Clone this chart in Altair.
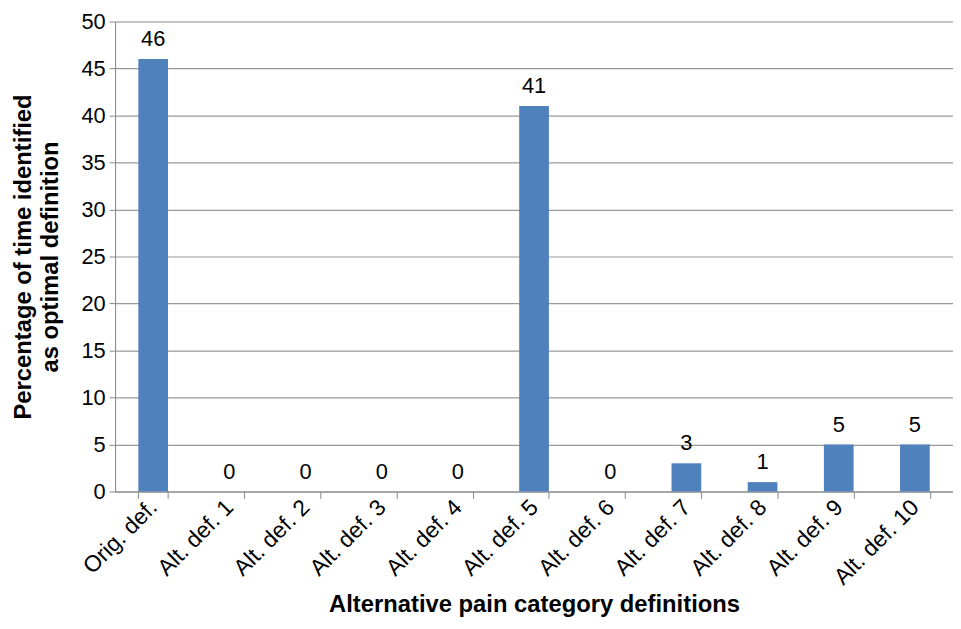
import altair as alt
import pandas as pd

categories = ["Orig. def.", "Alt. def. 1", "Alt. def. 2", "Alt. def. 3", "Alt. def. 4",
              "Alt. def. 5", "Alt. def. 6", "Alt. def. 7", "Alt. def. 8", "Alt. def. 9",
              "Alt. def. 10"]
values = [46, 0, 0, 0, 0, 41, 0, 3, 1, 5, 5]

df = pd.DataFrame({"cat": categories, "val": values})

FONT = "Liberation Sans"

x = alt.X("cat:N", sort=categories,
          scale=alt.Scale(paddingInner=0.61, paddingOuter=0.305),
          axis=alt.Axis(title="Alternative pain category definitions",
                        labelAngle=-45, labelAlign="right", labelBaseline="middle",
                        labelFontSize=23, labelFont=FONT, labelColor="#000",
                        labelPadding=5,
                        titleFontSize=24, titleFont=FONT, titleFontWeight="bold",
                        titleColor="#000", titlePadding=4,
                        tickBand="extent", tickSize=7, tickColor="#888",
                        domainColor="#888", grid=False))
y = alt.Y("val:Q", scale=alt.Scale(domain=[0, 50]),
          axis=alt.Axis(title=["Percentage of time identified", "as optimal definition"],
                        values=list(range(0, 51, 5)),
                        labelFontSize=22, labelFont=FONT, labelColor="#000",
                        labelPadding=4,
                        titleFontSize=24, titleFont=FONT, titleFontWeight="bold",
                        titleColor="#000", titlePadding=19, titleLineHeight=27,
                        tickSize=6, tickColor="#888", domainColor="#888",
                        gridColor="#999", gridWidth=1.2))

bars = alt.Chart(df).mark_bar(color="#4F81BD").encode(x=x, y=y)
text = alt.Chart(df).mark_text(baseline="bottom", dy=-8, fontSize=22, font=FONT,
                               color="#000").encode(
    x=alt.X("cat:N", sort=categories), y="val:Q", text="val:Q")

chart = (bars + text).properties(
    width=845, height=474,
    autosize=alt.AutoSizeParams(type="none"),
    padding={"left": 108, "top": 11, "right": 0, "bottom": 128},
).configure_view(stroke=None).configure(background="white")

chart.save("out.html", embed_options={"renderer": "svg", "actions": False})
